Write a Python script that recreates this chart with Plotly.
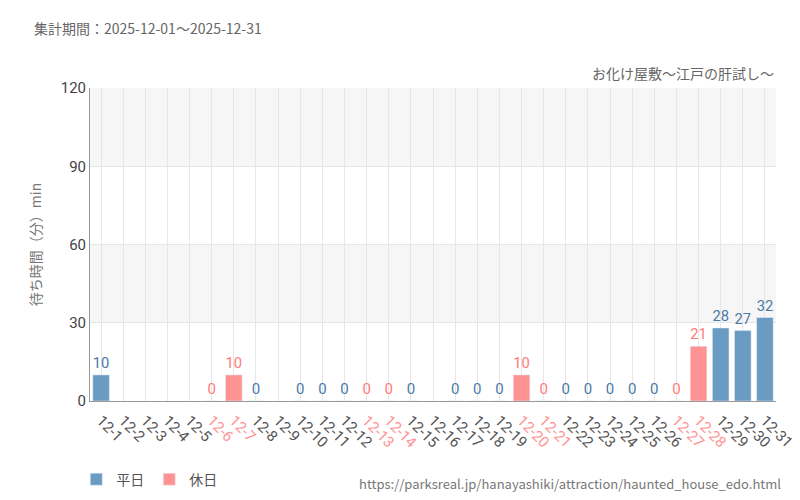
import plotly.graph_objects as go

dates = [f"12-{d}" for d in range(1, 32)]
values = [10,None,None,None,None,0,10,0,None,0,0,0,0,0,0,None,0,0,0,10,0,0,0,0,0,0,0,21,28,27,32]
holiday = [6,7,13,14,20,21,27,28]
BLUE = "#6a9bc3"; RED = "#ff9393"
is_hol = [int(d.split("-")[1]) in holiday for d in dates]

fig = go.Figure()
for name, col, flag in [("平日", BLUE, False), ("休日", RED, True)]:
    xs = [d for d, h in zip(dates, is_hol) if h == flag]
    ys = [v for v, h in zip(values, is_hol) if h == flag]
    fig.add_bar(x=xs, y=ys, name=name, marker_color=col, width=0.75,
                text=[("" if v is None else str(v)) for v in ys], textposition="outside",
                textfont=dict(color="#4a7aa8" if not flag else "#ff7b7b", size=15, family="Roboto"),
                cliponaxis=False)

for y0 in (30, 90):
    fig.add_shape(type="rect", xref="paper", yref="y", x0=0, x1=1, y0=y0, y1=y0 + 30,
                  fillcolor="#f6f6f6", line_width=0, layer="below")

ticktext = [f"<span style='color:{RED if h else '#555'}'>{d}</span>" for d, h in zip(dates, is_hol)]
fig.update_layout(
    width=800, height=500, plot_bgcolor="white", paper_bgcolor="white",
    margin=dict(l=82, r=30, t=80, b=100), barmode="overlay",
    font=dict(family="Noto Sans CJK JP", color="#555"),
    xaxis=dict(type="category", categoryorder="array", categoryarray=dates, tickvals=dates,
               ticktext=ticktext, tickangle=45, showgrid=True, gridcolor="#e6e6e6",
               tickfont=dict(size=15, family="Roboto"), linecolor="#999",
               ticks="outside", ticklen=4, tickcolor="rgba(0,0,0,0)"),
    yaxis=dict(range=[0, 120], tickvals=[0, 30, 60, 90, 120], showgrid=True, gridcolor="#e6e6e6",
               title=dict(text="待ち時間（分）min", font=dict(size=14, color="#777")),
               tickfont=dict(size=15, family="Roboto", color="#444"), zeroline=False, linecolor="#999", showline=True),
    legend=dict(orientation="h", x=-0.02, y=-0.2, xanchor="left", yanchor="top", font=dict(size=14)),
    bargap=0.2,
)
fig.add_annotation(text="集計期間：2025-12-01～2025-12-31", xref="paper", yref="paper",
                   x=-0.085, y=1.23, xanchor="left", showarrow=False, font=dict(size=14, color="#666"))
fig.add_annotation(text="お化け屋敷～江戸の肝試し～", xref="paper", yref="paper",
                   x=1.0, y=1.01, xanchor="right", yanchor="bottom", showarrow=False, font=dict(size=14, color="#666"))
fig.add_annotation(text="https://parksreal.jp/hanayashiki/attraction/haunted_house_edo.html", xref="paper", yref="paper",
                   x=1.01, y=-0.3, xanchor="right", yanchor="bottom", showarrow=False, font=dict(size=13, color="#777"))
fig.write_html("out.html")
